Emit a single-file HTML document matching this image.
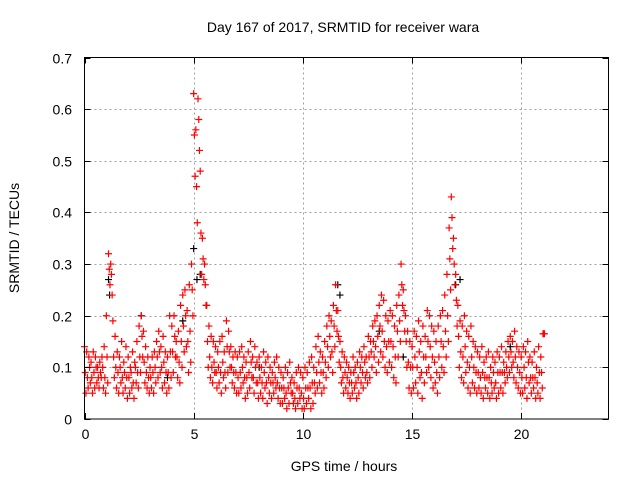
<!DOCTYPE html>
<html><head><meta charset="utf-8"><style>
body{margin:0;background:#fff}
svg{display:block;font-family:"Liberation Sans",sans-serif}
</style></head><body>
<svg id="chart" width="640" height="480">
<g id="grid"></g>
<g id="pts"></g>
<rect x="84.5" y="57.5" width="524" height="361.5" fill="none" stroke="#000" stroke-width="1"/>
<g id="axes"></g>
<text x="343" y="32" text-anchor="middle" font-size="14">Day 167 of 2017, SRMTID for receiver wara</text>
<text x="344" y="471" text-anchor="middle" font-size="14">GPS time / hours</text>
<text transform="translate(19,238) rotate(-90)" text-anchor="middle" font-size="14">SRMTID / TECUs</text>
</svg>
<script>
const xTicks=[0,5,10,15,20];
const yTicks=[0,0.1,0.2,0.3,0.4,0.5,0.6,0.7];
const yTickLabels=["0","0.1","0.2","0.3","0.4","0.5","0.6","0.7"];
const hiVals=[.14,.13,.12,.11,.13,.12,.10,.11,.12,.14,
.20,.32,.30,.19,.16,.13,.12,.15,.11,.14,
.12,.10,.13,.11,.15,.18,.20,.17,.14,.12,
.10,.12,.13,.15,.17,.14,.16,.13,.12,.20,
.18,.20,.15,.17,.22,.24,.25,.21,.26,.30,
.63,.56,.62,.48,.35,.30,.22,.18,.16,.15,
.14,.13,.15,.16,.13,.19,.17,.14,.12,.13,
.12,.13,.14,.12,.11,.13,.15,.12,.14,.11,
.12,.10,.13,.11,.12,.10,.09,.11,.12,.10,
.09,.08,.10,.09,.11,.08,.07,.09,.10,.09,
.08,.10,.09,.11,.12,.10,.14,.16,.13,.12,
.15,.18,.20,.19,.22,.26,.21,.15,.13,.12,
.11,.10,.09,.12,.10,.11,.13,.12,.14,.12,
.16,.15,.18,.19,.20,.22,.24,.23,.20,.19,
.21,.20,.18,.22,.24,.30,.25,.20,.17,.15,
.14,.17,.16,.19,.15,.18,.16,.21,.20,.18,
.17,.15,.18,.20,.21,.24,.28,.37,.43,.35,
.28,.22,.19,.18,.20,.17,.16,.18,.15,.14,
.13,.12,.14,.11,.12,.13,.10,.12,.11,.13,
.12,.14,.11,.13,.15,.16,.15,.17,.14,.13,
.12,.14,.13,.15,.12,.11,.13,.10,.14,.12,.165];
const midVals=[.09,.08,.10,.08,.09,.10,.08,.09,.10,.08,
.12,.29,.28,.12,.10,.09,.10,.08,.09,.08,
.08,.09,.07,.10,.09,.12,.16,.11,.09,.08,
.08,.09,.10,.12,.13,.10,.11,.09,.09,.13,
.13,.16,.12,.11,.15,.18,.20,.15,.17,.25,
.55,.45,.58,.36,.31,.26,.15,.12,.10,.11,
.09,.10,.09,.11,.09,.14,.13,.10,.09,.09,
.08,.09,.10,.08,.08,.09,.11,.08,.10,.07,
.08,.07,.09,.07,.08,.07,.07,.08,.07,.06,
.06,.06,.05,.06,.07,.05,.04,.06,.06,.05,
.04,.06,.06,.06,.07,.07,.09,.11,.09,.09,
.11,.14,.16,.13,.18,.21,.16,.10,.08,.09,
.08,.07,.07,.09,.07,.08,.10,.09,.11,.09,
.12,.13,.15,.14,.16,.18,.17,.15,.14,.15,
.15,.14,.12,.17,.19,.26,.21,.15,.11,.10,
.10,.12,.10,.13,.09,.12,.12,.15,.14,.12,
.11,.09,.12,.15,.14,.17,.20,.31,.39,.30,
.23,.16,.13,.12,.14,.11,.10,.12,.10,.09,
.09,.08,.09,.08,.08,.08,.07,.09,.07,.09,
.09,.09,.09,.10,.12,.13,.11,.12,.10,.09,
.08,.10,.08,.11,.08,.08,.08,.07,.09,.09,.165];
const loVals=[.05,.06,.07,.05,.06,.07,.06,.08,.06,.05,
.07,.26,.24,.08,.06,.05,.07,.05,.06,.04,
.05,.06,.04,.07,.06,.09,.12,.07,.06,.05,
.06,.05,.07,.08,.09,.06,.07,.05,.06,.08,
.09,.12,.08,.07,.10,.13,.14,.09,.11,.20,
.47,.38,.52,.28,.27,.22,.10,.08,.07,.09,
.06,.07,.05,.08,.06,.09,.10,.07,.06,.05,
.05,.06,.07,.04,.05,.06,.08,.05,.07,.04,
.05,.04,.06,.03,.05,.04,.05,.06,.04,.03,
.03,.04,.02,.03,.05,.03,.02,.03,.04,.02,
.02,.03,.04,.02,.03,.05,.06,.07,.05,.06,
.08,.10,.12,.09,.14,.17,.11,.07,.05,.06,
.05,.04,.05,.06,.04,.05,.07,.06,.08,.07,
.08,.10,.12,.09,.11,.13,.12,.10,.09,.11,
.10,.08,.07,.12,.15,.22,.17,.10,.06,.05,
.06,.07,.05,.08,.04,.07,.09,.10,.08,.06,
.07,.05,.08,.10,.09,.12,.15,.25,.33,.26,
.18,.10,.08,.07,.09,.06,.05,.07,.06,.05,
.06,.05,.04,.06,.05,.04,.05,.06,.04,.05,
.06,.05,.07,.08,.09,.10,.08,.07,.06,.05,
.05,.06,.04,.07,.05,.06,.04,.05,.04,.06,.165];
const blackTimes=[1.1,1.15,2.6,3.8,4.5,5.0,5.15,5.3,8.0,11.6,11.7,13.5,14.6,17.0,17.2,19.5];
const blackVals=[.27,.24,.20,.08,.19,.33,.27,.28,.10,.26,.24,.17,.12,.26,.27,.14];

const X0=84.5,X1=608.5,Y0=419,Y1=57.5;
function xs(t){return X0+(t/24)*(X1-X0);}
function ys(v){return Y0-(v/0.7)*(Y0-Y1);}
const NS="http://www.w3.org/2000/svg";
const grid=document.getElementById('grid'),axes=document.getElementById('axes'),pts=document.getElementById('pts');
function line(g,x1,y1,x2,y2,st,dash){const l=document.createElementNS(NS,'line');l.setAttribute('x1',x1);l.setAttribute('y1',y1);l.setAttribute('x2',x2);l.setAttribute('y2',y2);l.setAttribute('stroke',st);if(dash)l.setAttribute('stroke-dasharray',dash);g.appendChild(l);return l;}
function text(g,x,y,s,anchor){const t=document.createElementNS(NS,'text');t.setAttribute('x',x);t.setAttribute('y',y);t.setAttribute('font-size','14');t.setAttribute('text-anchor',anchor);t.textContent=s;g.appendChild(t);return t;}
xTicks.forEach(v=>{const x=Math.round(xs(v))+0.5;
 if(v>0){const g=line(grid,x,Y1,x,Y0,'#a0a0a0','2,3');}
 const a=line(axes,x,Y0,x,Y0-6,'#000');
 const b=line(axes,x,Y1,x,Y1+6,'#000');
 const t=text(axes,x,439,String(v),'middle');});
yTicks.forEach((v,i)=>{const y=Math.round(ys(v))+0.5;
 if(v>0&&v<0.7){const g=line(grid,X0,y,X1,y,'#a0a0a0','2,3');}
 const a=line(axes,X0,y,X0+6,y,'#000');
 const b=line(axes,X1,y,X1-6,y,'#000');
 const t=text(axes,72,y+5,yTickLabels[i],'end');});
function plus(x,y,c,name){const p=document.createElementNS(NS,'path');
 p.setAttribute('d',`M${x-3.5},${y}h7M${x},${y-3.5}v7`);p.setAttribute('stroke',c);p.setAttribute('stroke-width','1.2');
 
 
 pts.appendChild(p);}
blackTimes.forEach((t,i)=>plus(xs(t),ys(blackVals[i]),'#000','black-point'));
[hiVals,midVals,loVals].forEach((arr,k)=>arr.forEach((v,i)=>{const t=i*0.1+k*0.033;plus(xs(t),ys(v),'#ff0000','srmtid-point');}));
</script>
</body></html>
